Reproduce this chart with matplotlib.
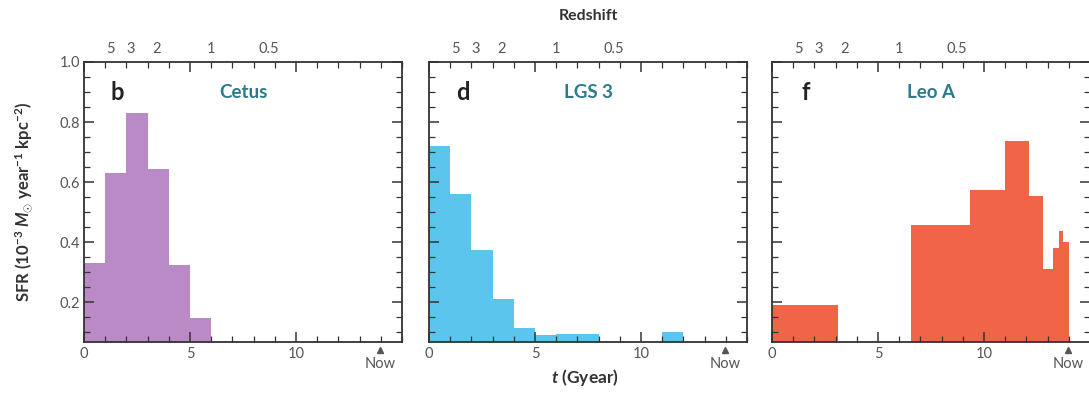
import matplotlib
matplotlib.use('Agg')
import matplotlib.pyplot as plt
from matplotlib.ticker import MultipleLocator

plt.rcParams['font.family'] = ['Lato', 'DejaVu Sans']
plt.rcParams['mathtext.fontset'] = 'custom'
plt.rcParams['mathtext.rm'] = 'Lato:bold'
plt.rcParams['mathtext.bf'] = 'Lato:bold'
plt.rcParams['mathtext.it'] = 'Lato:italic:bold'

# star formation histories (bin left edge, width in Gyr, SFR)
cetus_left = [0, 1, 2, 3, 4, 5]
cetus_width = [1, 1, 1, 1, 1, 1]
cetus_sfr = [0.33, 0.63, 0.83, 0.645, 0.325, 0.147]

lgs3_left = [0, 1, 2, 3, 4, 5, 6, 7, 11]
lgs3_width = [1, 1, 1, 1, 1, 1, 1, 1, 1]
lgs3_sfr = [0.72, 0.56, 0.375, 0.21, 0.115, 0.09, 0.093, 0.093, 0.10]

leoa_left = [0, 6.55, 9.35, 11.0, 12.1, 12.8, 13.27, 13.55, 13.71]
leoa_width = [3.1, 2.8, 1.65, 1.1, 0.7, 0.47, 0.28, 0.16, 0.29]
leoa_sfr = [0.19, 0.456, 0.572, 0.737, 0.553, 0.31, 0.38, 0.436, 0.40]

# redshift labels on the top axis and the cosmic time they sit at
z_labels = ['5', '3', '2', '1', '0.5']
z_age = [1.25, 2.2, 3.4, 6.0, 8.7]
now_age = 13.95

panels = [
    ('b', 'Cetus', cetus_left, cetus_width, cetus_sfr, '#b98ac6'),
    ('d', 'LGS 3', lgs3_left, lgs3_width, lgs3_sfr, '#5cc5ee'),
    ('f', 'Leo A', leoa_left, leoa_width, leoa_sfr, '#f06448'),
]

W, H = 1089, 394
fig = plt.figure(figsize=(W / 100, H / 100), dpi=100)

lefts = [84, 429, 772]
top, bottom, pw = 62, 342, 318
gray = '#555555'
tick_fs = 10.5

for i, (letter, name, left, width, sfr, color) in enumerate(panels):
    ax = fig.add_axes([lefts[i] / W, (H - bottom) / H, pw / W, (bottom - top) / H])
    ax.bar(left, sfr, width=width, align='edge', color=color, linewidth=0)
    ax.set_xlim(0, 15)
    ax.set_ylim(0.067, 1.0)

    ax.set_xticks([0, 5, 10])
    ax.xaxis.set_minor_locator(MultipleLocator(1))
    ax.yaxis.set_major_locator(MultipleLocator(0.2))
    ax.yaxis.set_minor_locator(MultipleLocator(0.05))
    ax.tick_params(which='both', direction='in', top=True, right=True,
                   colors='#333333', labelcolor=gray, labelsize=tick_fs)
    ax.tick_params(which='major', length=7, width=1.1)
    ax.tick_params(which='minor', length=4, width=0.9)
    ax.tick_params(axis='y', pad=3)
    if i == 0:
        ax.set_yticks([0.2, 0.4, 0.6, 0.8, 1.0])
        ax.set_yticklabels(['0.2', '0.4', '0.6', '0.8', '1.0'])
    else:
        ax.set_yticklabels([])
    for sp in ax.spines.values():
        sp.set_color('#333333')
        sp.set_linewidth(1.3)

    # "Now" marker under the axis
    ax.plot([now_age], [-0.028], marker='^', markersize=4, color=gray,
            transform=ax.get_xaxis_transform(), clip_on=False)
    ax.text(now_age, -0.078, 'Now', transform=ax.get_xaxis_transform(),
            ha='center', va='center', fontsize=tick_fs, color=gray)

    sec = ax.secondary_xaxis('top')
    sec.set_xticks(z_age)
    sec.set_xticklabels(z_labels)
    sec.tick_params(length=0, pad=4, labelsize=tick_fs, labelcolor=gray)
    sec.spines['top'].set_visible(False)

    ax.text(0.105, 0.89, letter, transform=ax.transAxes, fontsize=17,
            fontweight='bold', color='#222222', ha='center', va='center')
    ax.text(0.5, 0.89, name, transform=ax.transAxes, fontsize=13.5,
            fontweight='bold', color='#2c7a8a', ha='center', va='center')

fig.text(588 / W, 1 - 16 / H, 'Redshift', fontsize=11.5, fontweight='bold',
         color='#333333', ha='center', va='center')
fig.text(585 / W, 1 - 377 / H, r'$\mathit{t}$ (Gyear)', fontsize=12.5,
         fontweight='bold', color='#333333', ha='center', va='center')
fig.text(24 / W, 1 - 202 / H,
         r'SFR (10$^{-3}$ $\mathit{M}_{\odot}$ year$^{-1}$ kpc$^{-2}$)',
         fontsize=12, fontweight='bold', color='#333333', rotation=90,
         ha='center', va='center')

fig.savefig('out.png', dpi=100)
